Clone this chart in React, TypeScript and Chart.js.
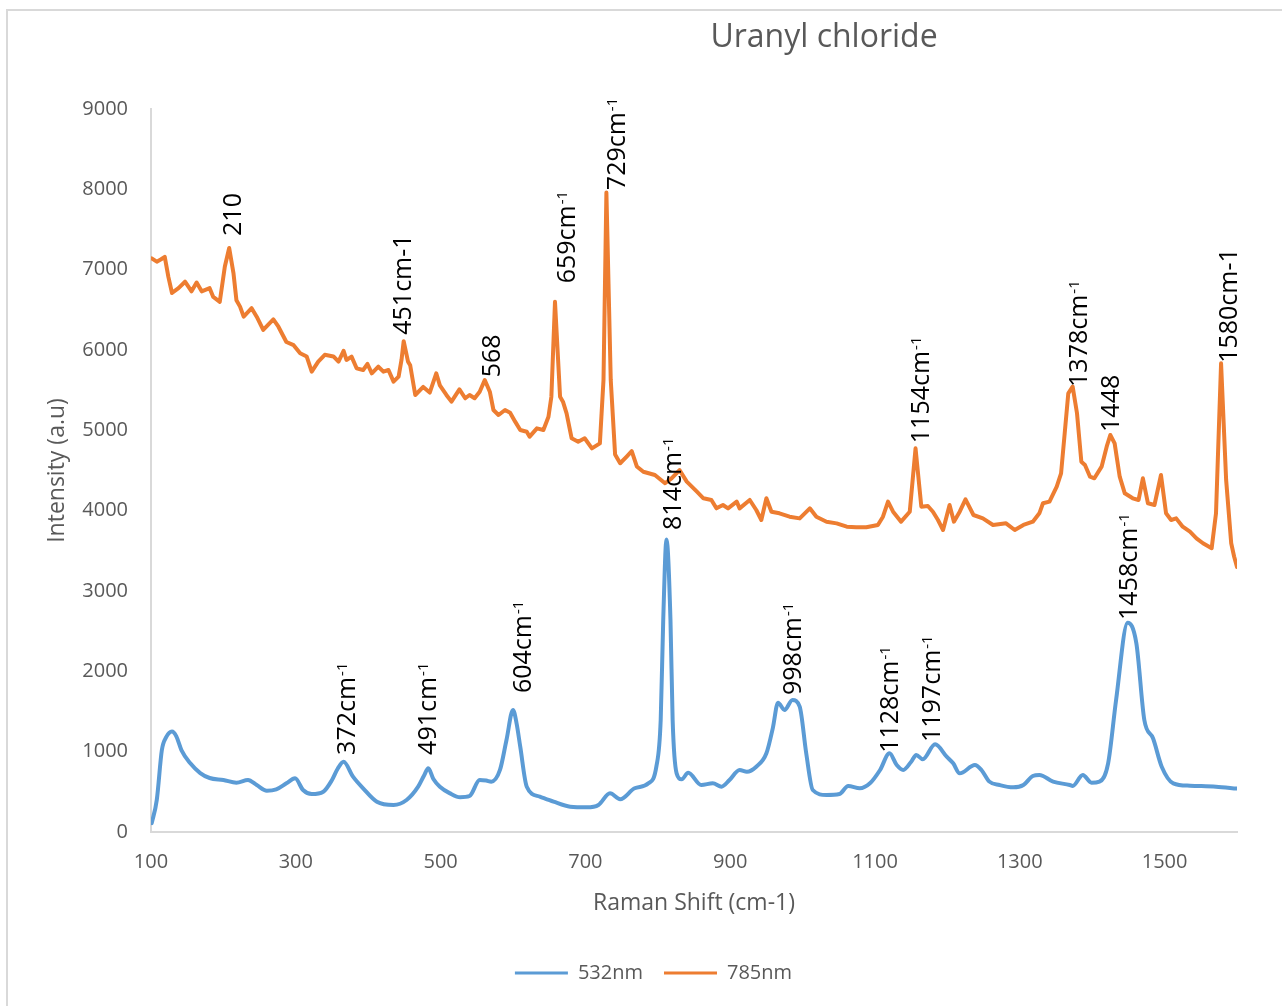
import { useEffect, useRef } from 'react';
import { Chart, registerables } from 'chart.js';

Chart.register(...registerables);

const FONT = '"Open Sans", sans-serif';
const GREY_TEXT = '#595959';
const AXIS_LINE = '#d9d9d9';

// x-axis tick positions (Raman shift, cm-1)
const xTickValues = [100, 300, 500, 700, 900, 1100, 1300, 1500];

// 532 nm excitation spectrum
const shift532 = [
  101, 108, 115, 121, 129, 135, 142, 154, 168, 181,
  200, 218, 234, 246, 260, 273, 287, 299, 310, 322,
  338, 350, 358, 366, 379, 393, 412, 435, 453, 469,
  477, 483, 490, 499, 513, 527, 540, 554, 563, 570,
  582, 591, 600, 605, 610, 619, 637, 656, 679, 702,
  718, 734, 748, 768, 787, 798, 804, 807.5, 812, 817.5,
  820.5, 826, 833, 842, 860, 876, 888, 899, 913, 923,
  936, 950, 959, 966, 975, 986, 996, 1005, 1014, 1033,
  1051, 1063, 1079, 1093, 1107, 1120, 1130, 1139, 1150, 1157,
  1166, 1183, 1199, 1208, 1217, 1238, 1247, 1258, 1272, 1291,
  1305, 1318, 1327, 1346, 1369, 1373, 1387, 1399, 1410, 1422,
  1433, 1449, 1461, 1472, 1484, 1496, 1512, 1535, 1571, 1600,
];
const intensity532 = [
  110, 400, 1020, 1180, 1250, 1190, 1020, 858, 734, 672,
  647, 614, 647, 585, 514, 531, 606, 668, 523, 473,
  502, 647, 790, 875, 689, 544, 377, 336, 398, 564,
  700, 793, 660, 564, 481, 432, 448, 647, 640, 627,
  772, 1145, 1519, 1350, 1062, 564, 440, 377, 315, 307,
  336, 481, 407, 544, 606, 813, 1394, 2640, 3640, 2640,
  1394, 730, 656, 738, 585, 606, 564, 647, 772, 751,
  813, 980, 1300, 1610, 1519, 1643, 1560, 980, 523, 461,
  473, 573, 544, 606, 772, 980, 834, 772, 875, 958,
  905, 1092, 938, 855, 730, 834, 772, 627, 585, 556,
  585, 697, 710, 627, 585, 573, 710, 614, 627, 855,
  1643, 2606, 2349, 1394, 1166, 813, 606, 576, 564, 540,
];

// 785 nm excitation spectrum
const shift785 = [
  101, 108, 114, 119, 124, 129, 138, 147, 156, 163,
  170, 181, 186, 195, 202, 208, 214, 218, 223, 228,
  239, 246, 255, 269, 276, 287, 297, 306, 315, 322,
  331, 340, 352, 359, 366, 370, 377, 384, 393, 399,
  405, 414, 421, 428, 435, 442, 446, 449, 455, 458,
  465, 476, 485, 494, 499, 508, 515, 526, 534, 540,
  547, 554, 561, 568, 573, 580, 589, 596, 603, 610,
  619, 623, 633, 642, 649, 653, 658, 665, 669, 674,
  681, 690, 699, 709, 720, 725, 729, 735, 741, 748,
  757, 764, 771, 780, 796, 810, 819, 830, 840, 854,
  863, 874, 881, 890, 897, 909, 913, 927, 936, 943,
  950, 957, 968, 982, 996, 1010, 1019, 1033, 1047, 1061,
  1074, 1088, 1104, 1111, 1118, 1125, 1136, 1148, 1156, 1164,
  1173, 1180, 1187, 1194, 1203, 1209, 1217, 1225, 1236, 1249,
  1263, 1281, 1293, 1305, 1318, 1327, 1332, 1341, 1351, 1357,
  1362, 1367, 1373, 1379, 1385, 1390, 1397, 1403, 1413, 1420,
  1425, 1431, 1438, 1445, 1456, 1464, 1470, 1477, 1486, 1495,
  1502, 1509, 1516, 1525, 1535, 1544, 1553, 1565, 1571, 1578,
  1585, 1592, 1596, 1600,
];
const intensity785 = [
  7140, 7100, 7130, 7160, 6910, 6710, 6770, 6850, 6730, 6840,
  6730, 6770, 6660, 6600, 7040, 7270, 6950, 6620, 6540, 6415,
  6520, 6415, 6250, 6380, 6290, 6100, 6060, 5960, 5920, 5730,
  5855, 5940, 5920, 5855, 5990, 5876, 5917, 5772, 5751, 5826,
  5710, 5792, 5730, 5751, 5606, 5668, 5876, 6110, 5855, 5810,
  5440, 5540, 5470, 5710, 5560, 5440, 5357, 5510, 5399, 5440,
  5399, 5481, 5627, 5481, 5253, 5191, 5253, 5220, 5108, 5004,
  4983, 4921, 5025, 5004, 5170, 5419, 6600, 5419, 5357, 5212,
  4901, 4859, 4901, 4776, 4838, 5627, 7960, 5627, 4700, 4590,
  4673, 4740, 4550, 4485, 4444, 4341, 4403, 4506, 4361, 4237,
  4154, 4133, 4029, 4071, 4029, 4112, 4029, 4133, 4008, 3884,
  4154, 3987, 3967, 3925, 3904, 4029, 3925, 3863, 3842, 3801,
  3793, 3793, 3822, 3925, 4112, 3987, 3863, 3987, 4776, 4050,
  4058, 3987, 3884, 3759, 4071, 3863, 3987, 4141, 3946, 3904,
  3822, 3842, 3759, 3822, 3863, 3967, 4092, 4112, 4299, 4465,
  4963, 5461, 5544, 5212, 4610, 4568, 4423, 4403, 4548, 4797,
  4942, 4838, 4423, 4216, 4154, 4133, 4403, 4092, 4071, 4444,
  3967, 3884, 3904, 3801, 3738, 3656, 3594, 3532, 3967, 5834,
  4382, 3594, 3430, 3300,
];

// Peak annotations: text, superscript, anchor (shift, intensity) at the start of the rotated text
const peakText = ['210', '451cm-1', '568', '659cm', '729cm', '814cm', '998cm', '1128cm', '1197cm', '1458cm', '372cm', '491cm', '604cm', '1154cm', '1378cm', '1448', '1580cm-1'];
const peakSup = ['', '', '', '-1', '-1', '-1', '-1', '-1', '-1', '-1', '-1', '-1', '-1', '-1', '-1', '', ''];
const peakShift = [212, 447, 569, 673, 742, 819, 986, 1120, 1177, 1450, 369, 481, 612, 1162, 1381, 1425, 1588];
const peakIntensity = [7420, 6190, 5660, 6830, 7990, 3760, 1705, 985, 1120, 2640, 960, 960, 1730, 4840, 5540, 4980, 5840];

const toPoints = (xs: number[], ys: number[]) => xs.map((x, i) => ({ x, y: ys[i] }));

const chartTitle = {
  id: 'chartTitle',
  afterDraw(chart: any) {
    const { ctx } = chart;
    ctx.save();
    ctx.font = `32px ${FONT}`;
    ctx.fillStyle = GREY_TEXT;
    ctx.textAlign = 'center';
    ctx.textBaseline = 'middle';
    ctx.fillText('Uranyl chloride', 824, 38);
    ctx.restore();
  },
};

const peakLabels = {
  id: 'peakLabels',
  afterDatasetsDraw(chart: any) {
    const { ctx, scales } = chart;
    const size = 25;
    const supSize = 15;
    peakText.forEach((text, i) => {
      const px = scales.x.getPixelForValue(peakShift[i]);
      const py = scales.y.getPixelForValue(peakIntensity[i]);
      ctx.save();
      ctx.translate(px, py);
      ctx.rotate(-Math.PI / 2);
      ctx.fillStyle = '#000';
      ctx.textAlign = 'left';
      ctx.textBaseline = 'alphabetic';
      ctx.font = `${size}px ${FONT}`;
      const base = 0.36 * size;
      ctx.fillText(text, 0, base);
      if (peakSup[i]) {
        const w = ctx.measureText(text).width;
        ctx.font = `${supSize}px ${FONT}`;
        ctx.fillText(peakSup[i], w + 1, base - 8);
      }
      ctx.restore();
    });
  },
};

const plainNumber = (v: number | string) => String(v);

export default function App() {
  const canvasRef = useRef<HTMLCanvasElement>(null);

  useEffect(() => {
    const canvas = canvasRef.current;
    if (!canvas) return;
    const chart = new Chart(canvas, {
      type: 'line',
      data: {
        datasets: [
          {
            label: '532nm',
            data: toPoints(shift532, intensity532),
            borderColor: '#5B9BD5',
            backgroundColor: '#5B9BD5',
            borderWidth: 4,
            pointRadius: 0,
            cubicInterpolationMode: 'monotone',
            borderJoinStyle: 'round',
            borderCapStyle: 'round',
            fill: false,
          },
          {
            label: '785nm',
            data: toPoints(shift785, intensity785),
            borderColor: '#ED7D31',
            backgroundColor: '#ED7D31',
            borderWidth: 4,
            pointRadius: 0,
            tension: 0,
            borderJoinStyle: 'round',
            borderCapStyle: 'round',
            fill: false,
          },
        ],
      },
      options: {
        responsive: false,
        animation: false,
        events: [],
        layout: { padding: { left: 70, right: 45, top: 109, bottom: 13 } },
        scales: {
          x: {
            type: 'linear',
            min: 100,
            max: 1600,
            grid: { display: false, drawTicks: false },
            border: { display: true, color: AXIS_LINE, width: 2 },
            afterBuildTicks: (scale: any) => {
              scale.ticks = xTickValues.map((value) => ({ value }));
            },
            afterFit: (scale: any) => {
              scale.height = 110;
            },
            ticks: {
              color: GREY_TEXT,
              font: { family: FONT, size: 20 },
              padding: 18,
              maxRotation: 0,
              autoSkip: false,
              callback: plainNumber,
            },
            title: {
              display: true,
              text: 'Raman Shift (cm-1)',
              color: GREY_TEXT,
              font: { family: FONT, size: 23 },
              padding: { top: 0, bottom: 25 },
            },
          },
          y: {
            type: 'linear',
            min: 0,
            max: 9000,
            grid: { display: false, drawTicks: false },
            border: { display: true, color: AXIS_LINE, width: 2 },
            afterFit: (scale: any) => {
              scale.width = 81;
            },
            ticks: {
              stepSize: 1000,
              color: GREY_TEXT,
              font: { family: FONT, size: 20 },
              padding: 23,
              callback: plainNumber,
            },
            title: {
              display: true,
              text: 'Intensity (a.u)',
              color: GREY_TEXT,
              font: { family: FONT, size: 23 },
              padding: { top: -26, bottom: 0 },
            },
          },
        },
        plugins: {
          tooltip: { enabled: false },
          title: { display: false },
          legend: {
            display: true,
            position: 'bottom',
            labels: {
              color: GREY_TEXT,
              font: { family: FONT, size: 20 },
              boxWidth: 53,
              boxHeight: 3,
              padding: 21,
              generateLabels: (c: any) =>
                c.data.datasets.map((ds: any, i: number) => ({
                  text: ds.label,
                  fillStyle: ds.borderColor,
                  strokeStyle: ds.borderColor,
                  lineWidth: 0,
                  hidden: false,
                  datasetIndex: i,
                  fontColor: GREY_TEXT,
                })),
            },
          },
        },
      },
      plugins: [chartTitle, peakLabels],
    } as any);
    return () => chart.destroy();
  }, []);

  return (
    <div
      style={{
        position: 'fixed',
        left: 0,
        top: 0,
        width: 1282,
        height: 1006,
        overflow: 'hidden',
        background: '#fff',
      }}
    >
      <div
        style={{
          position: 'absolute',
          left: 6,
          top: 9,
          width: 1320,
          height: 1040,
          border: `2px solid ${AXIS_LINE}`,
          boxSizing: 'border-box',
        }}
      />
      <canvas
        ref={canvasRef}
        width={1282}
        height={1006}
        style={{ position: 'absolute', left: 0, top: 0 }}
      />
    </div>
  );
}
